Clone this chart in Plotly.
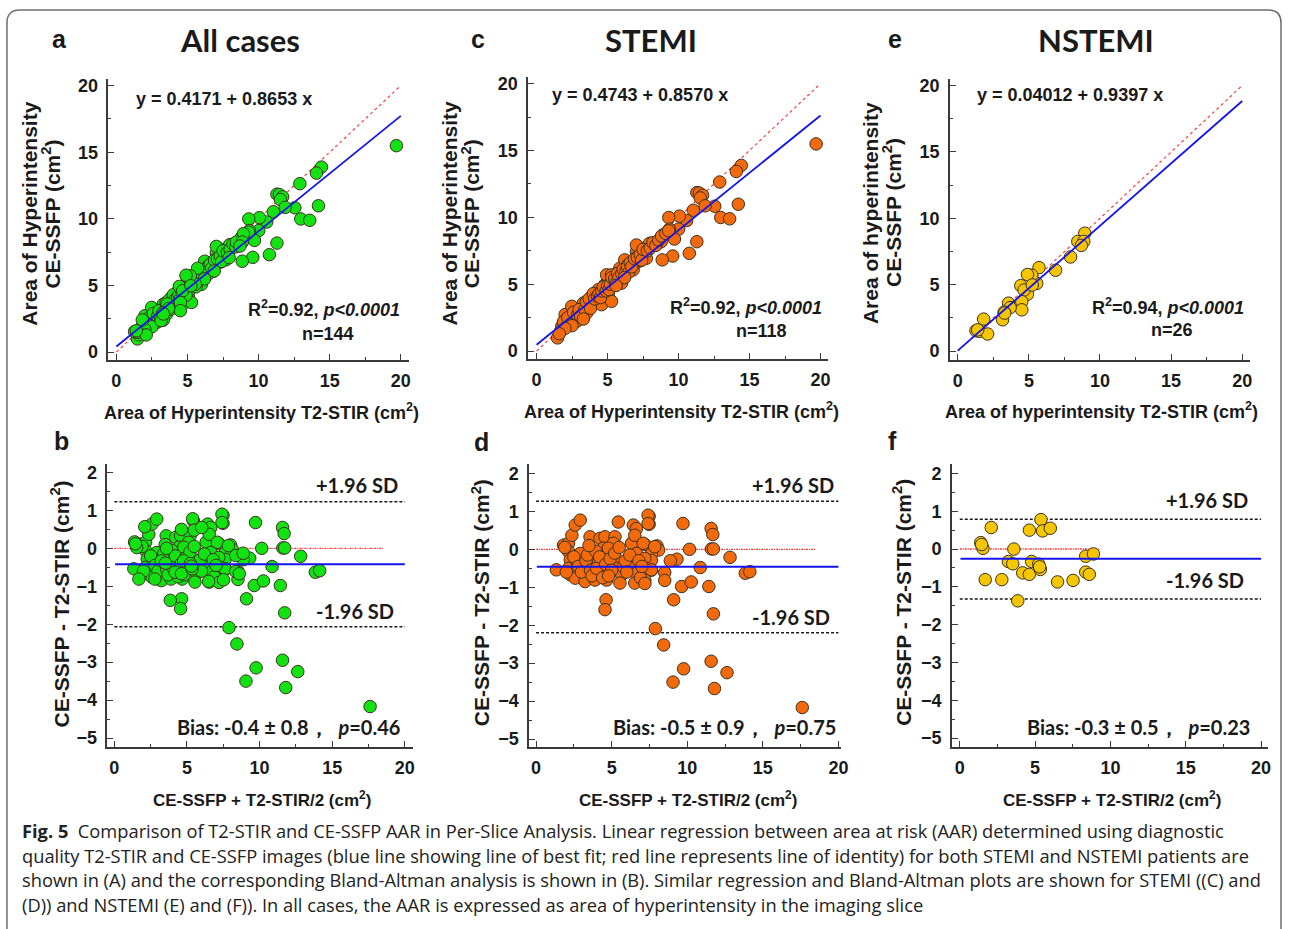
import plotly.graph_objects as go

W, H = 1289, 929

# ---------------- data ----------------
# STEMI regression points (T2-STIR area, CE-SSFP area), cm^2
stemi_x = [19.69, 14.42, 14.07, 12.9, 14.21, 12.55, 12.97, 13.6, 11.29, 11.46, 11.69, 11.53, 11.87, 11.04,
           10.57, 10.06, 9.31, 10.01, 9.36, 9.71, 8.9, 11.29, 10.76, 9.59, 8.85, 8.78, 8.01, 7.61, 7.73, 7.15,
           7.26, 7.0, 7.3,
           1.48, 1.78, 2.13, 2.36, 2.01, 2.48, 2.83, 2.71, 3.18, 3.3, 3.65, 3.53, 4.0, 3.88, 4.23, 4.35, 4.58,
           4.81, 5.05, 5.28, 4.81, 5.05, 5.4, 4.93, 5.28, 5.98, 5.86, 6.21, 6.45, 6.8, 7.03, 7.03, 7.96,
           1.7, 1.9, 2.2, 2.4, 2.6, 2.9, 3.0, 3.1, 3.4, 3.5, 3.7, 3.8, 4.0, 4.1, 4.3, 4.4, 4.5, 4.6, 4.7, 4.9,
           5.0, 5.1, 5.2, 5.3, 5.5, 5.6, 5.7, 5.8, 6.0, 6.1, 6.3, 6.4, 6.5, 6.6, 6.7, 6.9, 7.1, 7.3, 7.4, 7.5,
           7.8, 8.0, 8.2, 8.4, 8.6, 8.8, 9.1, 9.3, 6.2, 5.6, 3.3, 2.5, 2.0, 1.6]
stemi_y = [15.49, 13.88, 13.43, 12.64, 10.98, 10.83, 9.99, 9.89, 11.85, 11.82, 11.65, 11.45, 10.86, 10.53,
           9.76, 10.09, 9.99, 9.12, 9.12, 8.38, 8.68, 8.18, 7.31, 7.11, 6.82, 8.18, 8.05, 7.56, 6.94, 7.81,
           7.19, 6.6, 6.75,
           0.99, 1.86, 2.1, 2.23, 2.73, 3.35, 2.23, 2.6, 2.85, 3.59, 3.35, 2.85, 3.59, 4.09, 3.84, 4.59, 3.47,
           4.09, 4.21, 3.72, 4.96, 5.33, 5.2, 5.7, 5.7, 5.08, 6.19, 6.82, 6.45, 6.07, 7.43, 7.93, 8.05,
           1.5, 2.2, 2.5, 2.0, 2.9, 2.7, 3.1, 2.6, 3.1, 3.7, 3.9, 3.2, 4.3, 3.9, 4.1, 4.3, 4.0, 4.5, 4.8, 4.5,
           4.9, 4.6, 5.0, 5.5, 5.4, 5.1, 5.8, 5.5, 5.8, 6.1, 6.0, 6.3, 5.9, 6.6, 6.3, 6.9, 7.0, 7.2, 6.8, 7.6,
           7.5, 7.7, 8.1, 7.9, 8.3, 8.6, 8.8, 9.0, 5.5, 4.9, 2.4, 1.9, 1.7, 1.3]

# NSTEMI regression points
nstemi_x = [8.93, 8.44, 8.86, 8.69, 7.93, 6.88, 5.71, 5.55, 5.2, 4.9, 4.9, 4.43, 4.66, 4.5, 4.5, 3.57, 3.68,
            3.26, 3.15, 1.82, 1.28, 1.52, 2.1, 5.24, 3.3, 1.4]
nstemi_y = [8.88, 8.26, 8.26, 7.96, 7.09, 6.09, 6.29, 5.1, 5.72, 5.77, 4.28, 4.93, 4.6, 3.73, 3.11, 3.61, 3.28,
            2.94, 2.36, 2.41, 1.54, 1.49, 1.29, 4.98, 2.86, 1.6]

# STEMI Bland-Altman points (mean, difference)
stemi_ba_x = [17.61, 12.63, 11.58, 11.8, 9.76, 9.06, 8.44, 7.89, 11.73, 9.1, 9.63, 10.26, 11.43, 10.86, 12.83,
              13.84, 14.14, 11.58, 11.69, 11.6, 11.73, 10.15, 9.72, 9.32, 8.88, 8.51, 8.51, 8.0, 8.11, 7.48,
              7.48, 7.19, 7.63, 7.63, 7.63,
              1.34, 1.82, 2.15, 2.37, 2.59, 2.92, 2.15, 2.26, 2.15, 2.26, 2.59, 2.7, 2.92, 3.14, 3.24, 3.57,
              3.68, 3.8, 3.9, 4.12, 4.23, 4.56, 4.45, 4.34, 4.67, 5.44, 5.22, 5.11, 4.78, 5.22, 5.33, 5.66,
              5.55, 5.77, 6.32, 6.43, 6.64, 6.53, 6.64, 6.43, 6.64, 6.53, 7.09, 7.19, 7.3, 7.19, 7.41, 7.41,
              7.63, 7.85, 4.63, 4.56,
              2.5, 2.8, 3.0, 3.3, 3.4, 3.6, 3.7, 3.95, 4.0, 4.2, 4.4, 4.6, 4.9, 5.0, 5.2, 5.5, 5.9, 6.0, 6.2,
              6.8, 6.9, 7.0, 7.2, 3.5, 4.8, 2.0, 1.9]
stemi_ba_y = [-4.17, -3.25, -2.95, -3.67, -3.15, -3.5, -2.52, -2.09, -1.7, -1.33, -0.98, -0.86, -0.98, -0.48,
              -0.21, -0.63, -0.59, 0.55, 0.39, 0.01, 0.01, 0.0, 0.68, -0.26, -0.3, -0.61, -0.82, 0.09, -0.02,
              0.87, 0.66, 0.13, -0.12, -0.29, -0.55,
              -0.54, 0.11, 0.16, 0.37, 0.64, 0.77, -0.06, -0.28, -0.5, -0.67, -0.76, -0.33, -0.11, -0.54, -0.85,
              0.33, -0.02, -0.33, -0.81, -0.37, 0.29, 0.33, 0.03, -0.59, -0.81, 0.72, 0.33, 0.16, 0.03, -0.24,
              -0.5, -0.67, -0.89, -0.46, 0.16, 0.64, 0.55, 0.37, -0.11, -0.37, -0.63, -0.89, 0.16, -0.24, -0.5,
              -0.81, 0.9, 0.68, -0.54, 0.07, -1.33, -1.59,
              -0.2, -0.45, -0.6, -0.3, -0.15, -0.55, -0.7, -0.05, -0.5, -0.2, -0.75, -0.4, -0.25, -0.55, -0.1,
              0.05, -0.3, -0.6, -0.15, -0.3, -0.75, -0.45, -0.9, 0.1, -0.7, -0.6, 0.05]

# NSTEMI Bland-Altman points
nstemi_ba_x = [1.39, 1.54, 1.69, 2.09, 2.79, 3.23, 3.52, 3.59, 3.85, 4.18, 4.62, 4.62, 4.77, 5.24, 5.35, 5.39,
               5.5, 6.01, 6.49, 7.52, 8.36, 8.87, 8.36, 8.6, 1.45, 5.3]
nstemi_ba_y = [0.17, 0.02, -0.81, 0.57, -0.81, -0.33, -0.39, 0.0, -1.37, -0.63, 0.5, -0.67, -0.33, -0.4, -0.54,
               0.78, 0.48, 0.55, -0.87, -0.83, -0.19, -0.13, -0.61, -0.67, 0.12, -0.47]

# regression fits (intercept, slope)
fit_all = (0.4171, 0.8653)
fit_stemi = (0.4743, 0.8570)
fit_nstemi = (0.04012, 0.9397)

# Bland-Altman: bias, upper LoA, lower LoA
ba_all = (-0.42, 1.23, -2.07)
ba_stemi = (-0.46, 1.27, -2.2)
ba_nstemi = (-0.26, 0.79, -1.32)
# extent of the zero (red) reference line
zero_end = {"all": 18.5, "stemi": 18.5, "nstemi": 9.3}

GREEN = "#12e212"
ORANGE = "#f26a0c"
YELLOW = "#f5c500"
EDGE = "#3c3220"

ARIAL = "Liberation Sans, Arial, sans-serif"
CAL = "Lato, Liberation Sans, sans-serif"

fig = go.Figure()


def px2x(p):
    return p / W


def px2y(p):
    return 1 - p / H


def rng(p_lo, p_hi, pa, va, pb, vb):
    k = (vb - va) / (pb - pa)
    return [va + (p_lo - pa) * k, va + (p_hi - pa) * k]


# panel geometry (pixels): x-domain, y-domain, tick calibration
panels = {
    "a": dict(xd=(109, 411), yd=(76, 359), xc=(117, 0, 403, 20), yc=(351, 0, 83, 20), kind="reg"),
    "c": dict(xd=(531, 833), yd=(74, 358), xc=(539.5, 0, 825, 20), yc=(350, 0, 81, 20), kind="reg"),
    "e": dict(xd=(955, 1257), yd=(76, 359), xc=(963, 0, 1249, 20), yc=(350, 0, 83, 20), kind="reg"),
    "b": dict(xd=(108, 415), yd=(463, 748), xc=(115, 0, 407, 20), yc=(472, 2, 739, -5), kind="ba"),
    "d": dict(xd=(532, 846), yd=(463, 748), xc=(539, 0, 843, 20), yc=(473, 2, 740, -5), kind="ba"),
    "f": dict(xd=(957, 1275), yd=(463, 748), xc=(965, 0, 1268, 20), yc=(473, 2, 739, -5), kind="ba"),
}
order = ["a", "c", "e", "b", "d", "f"]

tickfont = dict(family=ARIAL, size=18, color="#1a1a1a", weight="bold")
axcol = "#3a3a3a"

for i, key in enumerate(order, start=1):
    p = panels[key]
    xr = rng(p["xd"][0], p["xd"][1], p["xc"][0], p["xc"][1], p["xc"][2], p["xc"][3])
    yr = rng(p["yd"][1], p["yd"][0], p["yc"][0], p["yc"][1], p["yc"][2], p["yc"][3])
    sfx = "" if i == 1 else str(i)
    reg = p["kind"] == "reg"
    fig.update_layout(**{
        "xaxis" + sfx: dict(domain=[px2x(p["xd"][0]), px2x(p["xd"][1])], range=xr, anchor="y" + sfx,
                            showgrid=False, zeroline=False, showline=True, linecolor=axcol, linewidth=1.5,
                            ticks="inside", ticklen=6, tickwidth=1.2, tickcolor=axcol, tickvals=[0, 5, 10, 15, 20],
                            minor=dict(tickvals=[2.5, 7.5, 12.5, 17.5], ticks="inside", ticklen=3,
                                       tickcolor=axcol),
                            tickfont=tickfont, ticklabelstandoff=4, fixedrange=True),
        "yaxis" + sfx: dict(domain=[px2y(p["yd"][1]), px2y(p["yd"][0])], range=yr, anchor="x" + sfx,
                            showgrid=False, zeroline=False, showline=True, linecolor=axcol, linewidth=1.5,
                            ticks="inside", ticklen=6, tickwidth=1.2, tickcolor=axcol,
                            tickvals=[0, 5, 10, 15, 20] if reg else [2, 1, 0, -1, -2, -3, -4, -5],
                            minor=dict(tickvals=[2.5, 7.5, 12.5, 17.5] if reg else
                                       [1.5, 0.5, -0.5, -1.5, -2.5, -3.5, -4.5],
                                       ticks="inside", ticklen=3, tickcolor=axcol),
                            tickfont=tickfont, ticklabelstandoff=5, fixedrange=True),
    })

lines_x = [0, 20]


def add_reg(i, xs, ys, color, fit):
    xa, ya = "x" + ("" if i == 1 else str(i)), "y" + ("" if i == 1 else str(i))
    fig.add_trace(go.Scatter(x=lines_x, y=lines_x, mode="lines", xaxis=xa, yaxis=ya,
                             line=dict(color="#ff4040", width=1.2, dash="dot"), showlegend=False))
    fig.add_trace(go.Scatter(x=xs, y=ys, mode="markers", xaxis=xa, yaxis=ya,
                             marker=dict(size=12.5, color=color, line=dict(color=EDGE, width=1)),
                             showlegend=False))
    fig.add_trace(go.Scatter(x=lines_x, y=[fit[0] + fit[1] * v for v in lines_x], mode="lines",
                             xaxis=xa, yaxis=ya, line=dict(color="#1414ee", width=1.8), showlegend=False))


def add_ba(i, xs, ys, color, ba, zend):
    xa, ya = "x" + str(i), "y" + str(i)
    for lv in (ba[1], ba[2]):
        fig.add_trace(go.Scatter(x=lines_x, y=[lv, lv], mode="lines", xaxis=xa, yaxis=ya,
                                 line=dict(color="#1a1a1a", width=1.5, dash="3px,2px"), showlegend=False))
    fig.add_trace(go.Scatter(x=[0, zend], y=[0, 0], mode="lines", xaxis=xa, yaxis=ya,
                             line=dict(color="#ff3030", width=1.4, dash="2px,1px,1px,1px"), showlegend=False))
    fig.add_trace(go.Scatter(x=xs, y=ys, mode="markers", xaxis=xa, yaxis=ya,
                             marker=dict(size=12.5, color=color, line=dict(color=EDGE, width=1)),
                             showlegend=False))
    fig.add_trace(go.Scatter(x=[0.05, 20], y=[ba[0], ba[0]], mode="lines", xaxis=xa, yaxis=ya,
                             line=dict(color="#1414ee", width=2), showlegend=False))


add_reg(1, stemi_x + nstemi_x, stemi_y + nstemi_y, GREEN, fit_all)
add_reg(2, stemi_x, stemi_y, ORANGE, fit_stemi)
add_reg(3, nstemi_x, nstemi_y, YELLOW, fit_nstemi)
add_ba(4, stemi_ba_x + nstemi_ba_x, stemi_ba_y + nstemi_ba_y, GREEN, ba_all, zero_end["all"])
add_ba(5, stemi_ba_x, stemi_ba_y, ORANGE, ba_stemi, zero_end["stemi"])
add_ba(6, nstemi_ba_x, nstemi_ba_y, YELLOW, ba_nstemi, zero_end["nstemi"])

ann = []


def text(x, y, s, size, family=ARIAL, xanchor="center", angle=0, color="#1a1a1a", bold=True):
    ann.append(dict(x=px2x(x), y=px2y(y), xref="paper", yref="paper", text=s, showarrow=False,
                    xanchor=xanchor, yanchor="middle", textangle=angle,
                    font=dict(family=family, size=size, color=color, weight="bold" if bold else "normal")))


# panel letters and titles
for s, x, y in [("a", 60, 36), ("c", 481, 36), ("e", 900, 36), ("b", 62, 440), ("d", 484, 441), ("f", 897, 440)]:
    text(x, y, s, 25)
for s, x in [("All cases", 241), ("STEMI", 655), ("NSTEMI", 1102)]:
    text(x, 37, s, 31, family=CAL)

# regression annotations
text(135, 97, "y = 0.4171 + 0.8653 x", 18, xanchor="left")
text(553, 93, "y = 0.4743 + 0.8570 x", 18, xanchor="left")
text(980, 93, "y = 0.04012 + 0.9397 x", 18, xanchor="left")
text(404, 307, "R<sup>2</sup>=0.92, <i>p<0.0001</i>", 18, xanchor="right")
text(828, 305, "R<sup>2</sup>=0.92, <i>p<0.0001</i>", 18, xanchor="right")
text(1253, 305, "R<sup>2</sup>=0.94, <i>p<0.0001</i>", 18, xanchor="right")
text(330, 333, "n=144", 18)
text(766, 330, "n=118", 18)
text(1178, 329, "n=26", 18)

# axis titles, regression row (two separate lines each)
for x1, y0, l1 in [(30, 212, "Area of Hyperintensity"), (452, 212, "Area of Hyperintensity"),
                   (876, 211, "Area of hyperintensity")]:
    text(x1, y0, l1, 21, angle=-90)
    text(x1 + 21, y0, "CE-SSFP (cm<sup>2</sup>)", 21, angle=-90)
text(263, 411, "Area of Hyperintensity T2-STIR (cm<sup>2</sup>)", 18)
text(685, 410, "Area of Hyperintensity T2-STIR (cm<sup>2</sup>)", 18)
text(1108, 410, "Area of hyperintensity T2-STIR (cm<sup>2</sup>)", 18)

# Bland-Altman annotations
for xr_, yu, yl, yb, bias in [(402, 485, 611, 728, "Bias: -0.4 ± 0.8，  <i>p</i>=0.46"),
                              (841, 485, 617, 728, "Bias: -0.5 ± 0.9，  <i>p</i>=0.75"),
                              (1257, 500, 580, 728, "Bias: -0.3 ± 0.5，  <i>p</i>=0.23")]:
    text(xr_, yu, "+1.96 SD", 20, family=CAL, xanchor="right")
    text(xr_ - 4, yl, "-1.96 SD", 20, family=CAL, xanchor="right")
    text(xr_ + 2, yb, bias, 20, family=CAL, xanchor="right")

ytb = "CE-SSFP - T2-STIR (cm<sup>2</sup>)"
text(60, 604, ytb, 21, angle=-90)
text(483, 603, ytb, 21, angle=-90)
text(907, 603, ytb, 21, angle=-90)
xtb = "CE-SSFP + T2-STIR/2 (cm<sup>2</sup>)"
text(263, 800, xtb, 17)
text(692, 800, xtb, 17)
text(1118, 800, xtb, 17)

# caption
cap = [
    "<b>Fig. 5</b>  Comparison of T2-STIR and CE-SSFP AAR in Per-Slice Analysis. Linear regression between area at risk (AAR) determined using diagnostic",
    "quality T2-STIR and CE-SSFP images (blue line showing line of best fit; red line represents line of identity) for both STEMI and NSTEMI patients are",
    "shown in (A) and the corresponding Bland-Altman analysis is shown in (B). Similar regression and Bland-Altman plots are shown for STEMI ((C) and",
    "(D)) and NSTEMI (E) and (F)). In all cases, the AAR is expressed as area of hyperintensity in the imaging slice",
]
for k, line in enumerate(cap):
    text(20, 832 + k * 24.8, line, 18.3, family="Open Sans, sans-serif", xanchor="left", bold=False,
         color="#222222")

# rounded frame
r = 13
L, T, R, B = 7, 7, 1288, 940
path = (f"M {px2x(L)} {px2y(B)} L {px2x(L)} {px2y(T + r)} Q {px2x(L)} {px2y(T)} {px2x(L + r)} {px2y(T)} "
        f"L {px2x(R - r)} {px2y(T)} Q {px2x(R)} {px2y(T)} {px2x(R)} {px2y(T + r)} L {px2x(R)} {px2y(B)}")
fig.update_layout(shapes=[dict(type="path", path=path, xref="paper", yref="paper",
                               line=dict(color="#6e6e6e", width=1.5))])

fig.update_layout(width=W, height=H, margin=dict(l=0, r=0, t=0, b=0), paper_bgcolor="white",
                  plot_bgcolor="white", annotations=ann, showlegend=False)

fig.write_html("out.html", config={"displayModeBar": False},
               post_script="document.body.style.margin='0px';")
